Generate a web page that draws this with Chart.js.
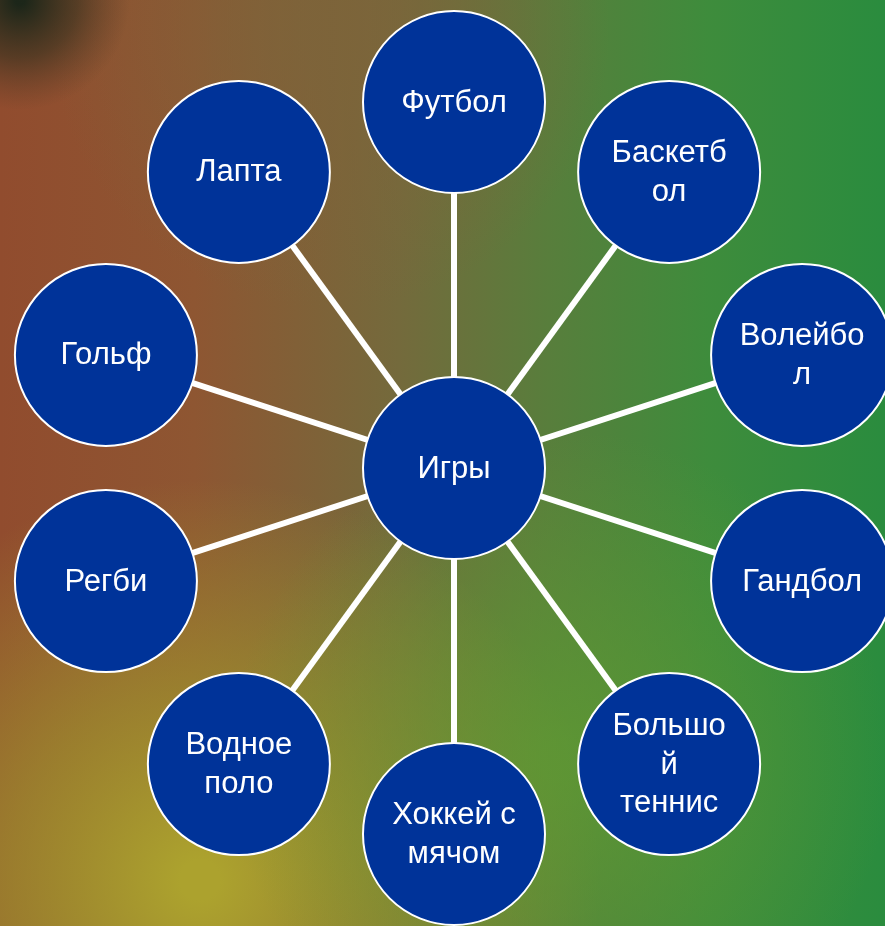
<!DOCTYPE html>
<html>
<head>
<meta charset="utf-8">
<script src="https://cdn.jsdelivr.net/npm/chart.js@4/dist/chart.umd.min.js"></script>
<style>
  html, body { margin: 0; padding: 0; overflow: hidden; }
  #wrap { width: 885px; height: 926px; }
</style>
</head>
<body>
<div id="wrap">
  <canvas id="myChart" width="885" height="926"></canvas>
</div>

<script>
// center topic and the ring of topics (clockwise from the top), lines as wrapped in the picture
var centerLabel = ["Игры"];
var nodeLabels = [
  ["Футбол"],
  ["Баскетб", "ол"],
  ["Волейбо", "л"],
  ["Гандбол"],
  ["Большо", "й", "теннис"],
  ["Хоккей с", "мячом"],
  ["Водное", "поло"],
  ["Регби"],
  ["Гольф"],
  ["Лапта"]
];

// layout
var W = 885, H = 926;
var cx = 454, cy = 468, ring = 366, nodeR = 91;
var nodeColor = '#003399';

var n = nodeLabels.length;
var nodes = [];
for (var i = 0; i < n; i++) {
  var a = i * 2 * Math.PI / n;
  nodes.push({ x: cx + ring * Math.sin(a), y: cy - ring * Math.cos(a) });
}
var center = { x: cx, y: cy };

var datasets = [];
// spokes first so the circles sit on top
for (var i = 0; i < n; i++) {
  datasets.push({
    type: 'line',
    data: [center, nodes[i]],
    borderColor: '#ffffff',
    borderWidth: 6,
    pointRadius: 0,
    clip: false,
    order: 2
  });
}
datasets.push({
  type: 'scatter',
  data: [center].concat(nodes),
  labelsText: [centerLabel].concat(nodeLabels),
  pointRadius: nodeR,
  pointHoverRadius: nodeR,
  pointBackgroundColor: nodeColor,
  pointBorderColor: '#ffffff',
  pointBorderWidth: 2,
  clip: false,
  order: 1
});

var background = {
  id: 'background',
  beforeDraw: function (chart) {
    var ctx = chart.ctx;
    ctx.save();
    var g = ctx.createLinearGradient(0, 0, W, 0);
    g.addColorStop(0, '#914c2e');
    g.addColorStop(0.22, '#8e5632');
    g.addColorStop(0.45, '#746a3c');
    g.addColorStop(0.62, '#587e3c');
    g.addColorStop(0.8, '#3e8c3c');
    g.addColorStop(1, '#2a8c3e');
    ctx.fillStyle = g;
    ctx.fillRect(0, 0, W, H);

    // yellow glow lower left
    var r1 = ctx.createRadialGradient(200, 880, 20, 200, 880, 400);
    r1.addColorStop(0, 'rgba(172,162,46,1)');
    r1.addColorStop(0.45, 'rgba(160,150,45,0.65)');
    r1.addColorStop(1, 'rgba(160,150,45,0)');
    ctx.fillStyle = r1;
    ctx.fillRect(0, 0, W, H);

    // green lower middle / right
    var r2 = ctx.createRadialGradient(560, 760, 20, 560, 760, 330);
    r2.addColorStop(0, 'rgba(95,155,50,0.75)');
    r2.addColorStop(1, 'rgba(95,155,50,0)');
    ctx.fillStyle = r2;
    ctx.fillRect(0, 0, W, H);

    // olive brown top middle
    var r3 = ctx.createRadialGradient(330, 30, 10, 330, 30, 280);
    r3.addColorStop(0, 'rgba(125,100,58,0.8)');
    r3.addColorStop(1, 'rgba(125,100,58,0)');
    ctx.fillStyle = r3;
    ctx.fillRect(0, 0, W, H);

    // dark top-left corner
    var r4 = ctx.createRadialGradient(20, 0, 5, 20, 0, 110);
    r4.addColorStop(0, 'rgba(22,36,24,0.95)');
    r4.addColorStop(0.5, 'rgba(40,45,28,0.55)');
    r4.addColorStop(1, 'rgba(70,55,35,0)');
    ctx.fillStyle = r4;
    ctx.fillRect(0, 0, W, H);
    ctx.restore();
  }
};

var nodeText = {
  id: 'nodeText',
  afterDatasetsDraw: function (chart) {
    var ctx = chart.ctx;
    var idx = chart.data.datasets.length - 1;
    var ds = chart.data.datasets[idx];
    var meta = chart.getDatasetMeta(idx);
    ctx.save();
    ctx.fillStyle = '#ffffff';
    ctx.font = '31px "Liberation Sans", Arial, sans-serif';
    ctx.textAlign = 'center';
    ctx.textBaseline = 'middle';
    var lh = 38.5;
    meta.data.forEach(function (pt, k) {
      var lines = ds.labelsText[k];
      var y0 = pt.y - (lines.length - 1) * lh / 2;
      lines.forEach(function (t, j) {
        ctx.fillText(t, pt.x, y0 + j * lh + 1);
      });
    });
    ctx.restore();
  }
};

var myChart = new Chart(document.getElementById('myChart').getContext('2d'), {
  type: 'scatter',
  data: { datasets: datasets },
  options: {
    responsive: false,
    animation: false,
    layout: { padding: 0, autoPadding: false },
    plugins: { legend: { display: false }, tooltip: { enabled: false } },
    events: [],
    scales: {
      x: { type: 'linear', min: 0, max: W, display: false },
      y: { type: 'linear', min: 0, max: H, reverse: true, display: false }
    }
  },
  plugins: [background, nodeText]
});
</script>
</body>
</html>
